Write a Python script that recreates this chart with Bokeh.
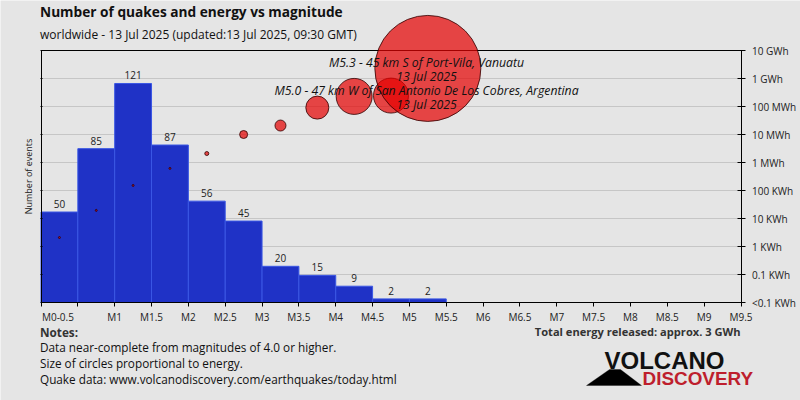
from bokeh.core.properties import value
from bokeh.embed import file_html
from bokeh.resources import INLINE
from bokeh.plotting import figure
from bokeh.models import (LinearAxis, FixedTicker, Range1d, Label, PolyAnnotation)

# ---- data
bin_left = [0, 1, 2, 3, 4, 5, 6, 7, 8, 9, 10]
bin_right = [1, 2, 3, 4, 5, 6, 7, 8, 9, 10, 11]
counts = [50, 85, 121, 87, 56, 45, 20, 15, 9, 2, 2]
bin_center = [0.5, 1.5, 2.5, 3.5, 4.5, 5.5, 6.5, 7.5, 8.5, 9.5, 10.5]
# energy on the level scale of the right-hand axis (0 = <0.1 KWh, 9 = 10 GWh)
energy_level = [2.32, 3.29, 4.18, 4.79, 5.32, 6.0, 6.32, 6.96, 7.36, 7.39, 8.36]
circle_size = [2, 2, 2, 2, 4, 8, 11, 23, 36, 35, 106]
x_ticks = list(range(20))
x_labels = ["", "", "M1", "M1.5", "M2", "M2.5", "M3", "M3.5", "M4", "M4.5", "M5", "M5.5",
            "M6", "M6.5", "M7", "M7.5", "M8", "M8.5", "M9", "M9.5"]
energy_levels = list(range(10))
energy_labels = ["<0.1 KWh", "0.1 KWh", "1 KWh", "10 KWh", "100 KWh", "1 MWh",
                 "10 MWh", "100 MWh", "1 GWh", "10 GWh"]
title = "Number of quakes and energy vs magnitude"
subtitle = "worldwide - 13 Jul 2025 (updated:13 Jul 2025, 09:30 GMT)"
quake_a = ["M5.3 - 45 km S of Port-Vila, Vanuatu", "13 Jul 2025"]
quake_b = ["M5.0 - 47 km W of San Antonio De Los Cobres, Argentina", "13 Jul 2025"]
notes = ["Data near-complete from magnitudes of 4.0 or higher.",
         "Size of circles proportional to energy.",
         "Quake data: www.volcanodiscovery.com/earthquakes/today.html"]
total = "Total energy released: approx. 3 GWh"

BG = "#e5e5e5"
FONT = "Open Sans"
OFF = 0
X0, X1 = 40.5, 740.5   # axis extent, px
Y0 = 302               # baseline, px
PX_X = (X1 - X0) / 19
PX_EV = 1.81
PX_LEVEL = 28
W, H = 800, 400


def xr(px):
    return (px - X0) / PX_X


p = figure(width=W, height=H, output_backend="svg", toolbar_location=None,
           x_range=Range1d(xr(OFF), xr(OFF + W)),
           y_range=Range1d((Y0 - OFF - H) / PX_EV, (Y0 - OFF) / PX_EV),
           x_axis_type=None, y_axis_type=None,
           background_fill_color=BG, border_fill_color=BG,
           min_border=0, min_border_left=0, min_border_right=0,
           min_border_top=0, min_border_bottom=0, outline_line_color=None)
p.grid.visible = False
p.extra_y_ranges = {"energy": Range1d((Y0 - OFF - H) / PX_LEVEL, (Y0 - OFF) / PX_LEVEL)}

# grid lines
p.segment(x0=[0] * 8, x1=[19] * 8, y0=energy_levels[1:9], y1=energy_levels[1:9],
          y_range_name="energy", line_color="#c6c6c6", line_width=1)
# top frame line at the highest level
p.segment(x0=[0], x1=[19], y0=energy_levels[9:], y1=energy_levels[9:],
          y_range_name="energy", line_color="#000000", line_width=1.2)

# bars
p.quad(left=bin_left, right=bin_right, bottom=[0] * len(counts), top=counts,
       fill_color="#1f32c6", line_color="#3a57e4", line_width=1)

# axes
bottom = LinearAxis(fixed_location=0, ticker=FixedTicker(ticks=x_ticks),
                    major_label_overrides=dict(zip(x_ticks, x_labels)),
                    bounds=(0, 19), axis_line_color="black", major_tick_line_color="black",
                    major_tick_in=0, major_tick_out=4, minor_tick_line_color=None,
                    major_label_text_font=FONT, major_label_text_font_size="10px",
                    major_label_text_color="#222222", major_label_standoff=3)
p.add_layout(bottom, "below")
first = LinearAxis(fixed_location=0, ticker=FixedTicker(ticks=[0.46]),
                   major_label_overrides={0.46: "M0-0.5"}, axis_line_color=None,
                   major_tick_line_color=None, minor_tick_line_color=None,
                   major_tick_in=0, major_tick_out=4,
                   major_label_text_font=FONT, major_label_text_font_size="10px",
                   major_label_text_color="#222222", major_label_standoff=3)
p.add_layout(first, "below")
right = LinearAxis(fixed_location=19, y_range_name="energy",
                   ticker=FixedTicker(ticks=energy_levels),
                   major_label_overrides=dict(zip(energy_levels, energy_labels)),
                   bounds=(0, 9), axis_line_color="black", major_tick_line_color="black",
                   major_tick_in=4, major_tick_out=4, minor_tick_line_color=None,
                   major_label_text_font=FONT, major_label_text_font_size="10px",
                   major_label_text_color="#222222", major_label_standoff=7)
p.add_layout(right, "right")
left = LinearAxis(fixed_location=0, y_range_name="energy",
                  ticker=FixedTicker(ticks=energy_levels),
                  major_label_text_color=None, major_label_text_font_size="1px",
                  bounds=(0, 9), axis_line_color="black", major_tick_line_color="black",
                  major_tick_in=1, major_tick_out=1, minor_tick_line_color=None,
                  axis_label="Number of events", axis_label_text_font=FONT,
                  axis_label_text_font_size="9px", axis_label_text_font_style="normal",
                  axis_label_text_color="#222222", axis_label_standoff=6)
p.add_layout(left, "left")

# energy circles
p.scatter(x=bin_center, y=energy_level, size=circle_size, y_range_name="energy",
          marker="circle", fill_color="#e60000", fill_alpha=0.7,
          line_color="#300000", line_alpha=0.8, line_width=1)

# count labels
p.text(x=bin_center, y=counts, text=[str(c) for c in counts], text_align="center",
       text_baseline="bottom", y_offset=-4, text_font=value(FONT), text_font_size="10px",
       text_color="#222222")


def label(px, py, text, size="11.75px", style="normal", align="left", color="#111111", font=FONT):
    p.add_layout(Label(x=px - OFF, y=py - OFF, x_units="canvas", y_units="canvas", text=text,
                       text_align=align, text_baseline="middle", text_font=font,
                       text_font_size=size, text_font_style=style, text_color=color))


# quake annotations
for py, t in zip((62, 76), quake_a):
    label(426, py, t, size="12.25px", style="italic", align="center")
for py, t in zip((90, 104), quake_b):
    label(426, py, t, size="12.25px", style="italic", align="center")

label(39.5, 11, title, size="13.7px", style="bold")
label(39.5, 34, subtitle, size="12px")
label(39.5, 331.5, "Notes:", style="bold", color="#333333")
for i, n in enumerate(notes):
    label(39.5, 346.5 + 16 * i, n)
label(740, 331, total, size="11.1px", style="bold", align="right", color="#333333")

# logo
label(604, 360, "VOLCANO", size="24px", style="bold", color="#111111", font="Liberation Sans")
label(642, 378, "DISCOVERY", size="18.9px", style="bold", color="#be1e2d", font="Liberation Sans")
p.add_layout(PolyAnnotation(xs=[586 - OFF, 609 - OFF, 620 - OFF, 641 - OFF],
                            ys=[385 - OFF, 369 - OFF, 369 - OFF, 385 - OFF],
                            xs_units="canvas", ys_units="canvas",
                            fill_color="black", fill_alpha=1, line_color="black"))

open("out.html", "w").write(file_html(p, INLINE))
